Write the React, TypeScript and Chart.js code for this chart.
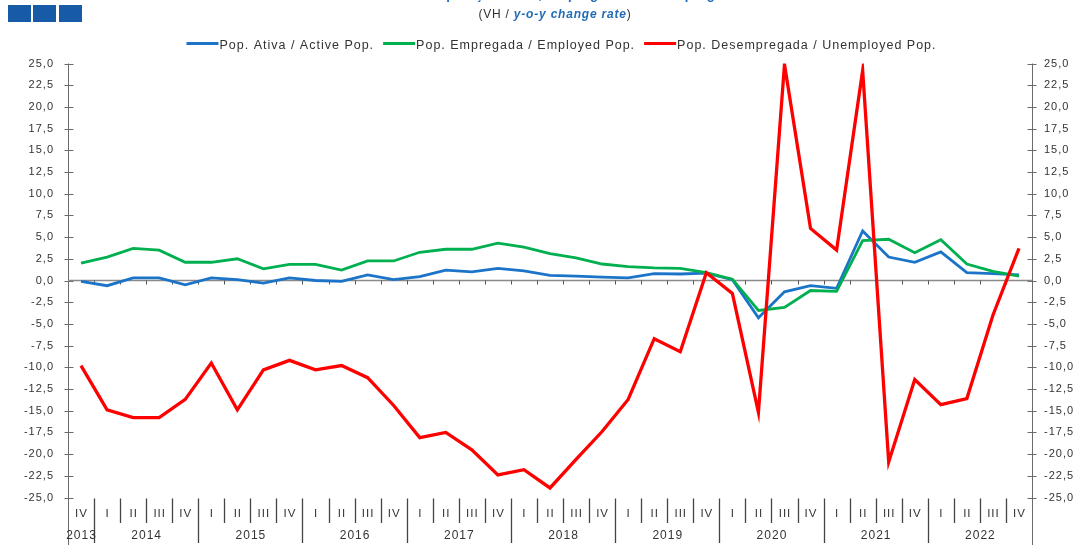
import React, { useEffect, useRef } from "react";
import { Chart, registerables } from "chart.js";

Chart.register(...registerables);

// ---------- DATA ----------
const categories = [
  "2013 IV",
  "2014 I", "2014 II", "2014 III", "2014 IV",
  "2015 I", "2015 II", "2015 III", "2015 IV",
  "2016 I", "2016 II", "2016 III", "2016 IV",
  "2017 I", "2017 II", "2017 III", "2017 IV",
  "2018 I", "2018 II", "2018 III", "2018 IV",
  "2019 I", "2019 II", "2019 III", "2019 IV",
  "2020 I", "2020 II", "2020 III", "2020 IV",
  "2021 I", "2021 II", "2021 III", "2021 IV",
  "2022 I", "2022 II", "2022 III", "2022 IV",
];

const seriesNames = [
  "Pop. Ativa / Active Pop.",
  "Pop. Empregada / Employed Pop.",
  "Pop. Desempregada / Unemployed Pop.",
];

const seriesColors = ["#1C74C8", "#00B050", "#FF0000"];

const activePop = [
  -0.1, -0.6, 0.3, 0.3, -0.5, 0.3, 0.1, -0.3, 0.3, 0.0, -0.1, 0.65, 0.1,
  0.45, 1.2, 1.0, 1.4, 1.1, 0.6, 0.5, 0.4, 0.3, 0.8, 0.75, 0.85, 0.1, -4.3,
  -1.3, -0.6, -0.9, 5.7, 2.7, 2.1, 3.3, 0.9, 0.8, 0.65,
];

const employedPop = [
  2.0, 2.7, 3.7, 3.5, 2.1, 2.1, 2.5, 1.35, 1.85, 1.85, 1.2, 2.25, 2.25, 3.25,
  3.6, 3.6, 4.3, 3.85, 3.1, 2.6, 1.9, 1.6, 1.45, 1.4, 0.9, 0.15, -3.45, -3.1,
  -1.15, -1.25, 4.6, 4.75, 3.2, 4.7, 1.9, 1.05, 0.5,
];

const unemployedPop = [
  -9.8, -14.9, -15.8, -15.8, -13.7, -9.5, -14.9, -10.3, -9.2, -10.3, -9.8,
  -11.2, -14.4, -18.1, -17.5, -19.5, -22.4, -21.8, -23.9, -20.6, -17.4, -13.7,
  -6.7, -8.2, 0.9, -1.5, -15.2, 24.9, 6.0, 3.5, 24.2, -20.9, -11.4, -14.3,
  -13.6, -4.0, 3.7,
];

const yMin = -25;
const yMax = 25;
const yStep = 2.5;

const titleText = "População Ativa, Empregada e Desempregada";
const subtitlePrefix = "(VH / ";
const subtitleEmph = "y-o-y change rate";
const subtitleSuffix = ")";

// ---------- STYLE ----------
const FONT = '"Liberation Sans", Arial, Helvetica, sans-serif';
const AXIS = "#6b6b6b";
const TEXT = "#333333";
const LS = "1px";

const fmt = (v: number) => v.toFixed(1).replace(".", ",");

const spacingPlugin = {
  id: "spacing",
  beforeUpdate(chart: any) {
    try { chart.ctx.letterSpacing = LS; } catch (e) {}
  },
  beforeDraw(chart: any) {
    try { chart.ctx.letterSpacing = LS; } catch (e) {}
  },
};

const line = (ctx: CanvasRenderingContext2D, x1: number, y1: number, x2: number, y2: number) => {
  ctx.beginPath();
  ctx.moveTo(x1, y1);
  ctx.lineTo(x2, y2);
  ctx.stroke();
};

const decorPlugin = {
  id: "decor",
  beforeDatasetsDraw(chart: any) {
    const { ctx, chartArea: ca, scales } = chart;
    const xs = scales.x;
    const ys = scales.y;
    const n = categories.length;
    const pos = (i: number) => xs.getPixelForValue(i);
    const half = n > 1 ? (pos(1) - pos(0)) / 2 : 0;
    const boundary = (i: number) => (i < n ? pos(i) - half : pos(n - 1) + half);
    ctx.save();
    try { ctx.letterSpacing = LS; } catch (e) {}
    ctx.strokeStyle = AXIS;
    ctx.lineWidth = 1;
    const L = Math.round(ca.left) + 0.5;
    const R = Math.round(ca.right) + 0.5;
    const bottomEnd = 545;
    // axis lines
    line(ctx, L, ca.top, L, bottomEnd);
    line(ctx, R, ca.top, R, bottomEnd);
    // crossing ticks on both y axes
    ys.ticks.forEach((t: any) => {
      const py = Math.round(ys.getPixelForValue(t.value)) + 0.5;
      line(ctx, L - 4, py, L + 5, py);
      line(ctx, R - 5, py, R + 4, py);
    });
    // zero line
    const z = ys.getPixelForValue(0);
    ctx.strokeStyle = "#8a8a8a";
    ctx.lineWidth = 1.5;
    line(ctx, ca.left, z, ca.right, z);
    ctx.lineWidth = 1;
    ctx.strokeStyle = "#555";
    for (let i = 1; i < n; i++) {
      const bx = Math.round(boundary(i)) + 0.5;
      line(ctx, bx, z, bx, z + 4);
    }
    // bottom separators
    ctx.strokeStyle = "#444";
    ctx.lineWidth = 1.3;
    const sepTop = ca.bottom + 1;
    for (let i = 1; i < n; i++) {
      const bx = Math.round(boundary(i)) + 0.5;
      const q = categories[i].split(" ")[1];
      line(ctx, bx, sepTop, bx, q === "I" ? 543 : 523);
    }
    // quarter labels
    ctx.fillStyle = TEXT;
    ctx.textAlign = "center";
    ctx.textBaseline = "middle";
    ctx.font = `11.5px ${FONT}`;
    for (let i = 0; i < n; i++) {
      const q = categories[i].split(" ")[1];
      ctx.fillText(q, pos(i) + 0.5, 514);
    }
    // year labels
    ctx.font = `12px ${FONT}`;
    const years: string[] = [];
    categories.forEach((c) => {
      const y = c.split(" ")[0];
      if (!years.includes(y)) years.push(y);
    });
    years.forEach((y) => {
      const idx = categories.map((c, i) => (c.startsWith(y) ? i : -1)).filter((i) => i >= 0);
      const cx = (pos(idx[0]) + pos(idx[idx.length - 1])) / 2;
      ctx.fillText(y, cx + 0.5, 536);
    });
    ctx.restore();
  },
  afterDraw(chart: any) {
    const { ctx } = chart;
    ctx.save();
    try { ctx.letterSpacing = LS; } catch (e) {}
    ctx.font = `12.5px ${FONT}`;
    const ds = chart.data.datasets;
    const lineW = 32;
    const gapT = 1;
    const gapI = 9;
    const widths = ds.map((d: any) => ctx.measureText(d.label).width);
    const total = widths.reduce((a: number, w: number) => a + lineW + gapT + w, 0) + gapI * (ds.length - 1);
    let x = 561.5 - total / 2;
    ctx.textAlign = "left";
    ctx.textBaseline = "alphabetic";
    ds.forEach((d: any, i: number) => {
      ctx.strokeStyle = d.borderColor;
      ctx.lineWidth = 3;
      line(ctx, x, 43.5, x + lineW, 43.5);
      x += lineW + gapT;
      ctx.fillStyle = TEXT;
      ctx.fillText(d.label, x, 49);
      x += widths[i] + gapI;
    });
    ctx.restore();
  },
};

export default function App() {
  const ref = useRef<HTMLCanvasElement>(null);

  useEffect(() => {
    const canvas = ref.current;
    if (!canvas) return;
    Chart.defaults.font.family = FONT;
    const values = [activePop, employedPop, unemployedPop];
    const chart = new Chart(canvas, {
      type: "line",
      data: {
        labels: categories,
        datasets: seriesNames.map((name, i) => ({
          label: name,
          data: values[i],
          borderColor: seriesColors[i],
          backgroundColor: seriesColors[i],
          borderWidth: i === 2 ? 3.3 : 2.8,
          pointRadius: 0,
          tension: 0,
          yAxisID: "y",
          order: 2 - i,
        })),
      },
      options: {
        responsive: false,
        animation: false,
        events: [],
        layout: { padding: { top: 63.5, left: 0, right: 0, bottom: 0 } },
        plugins: {
          legend: { display: false },
          tooltip: { enabled: false },
          title: { display: false },
        },
        scales: {
          x: {
            type: "category",
            offset: true,
            grid: { display: false, drawTicks: false },
            border: { display: false },
            ticks: { display: false },
            afterFit: (s: any) => { s.height = 48.5; },
          },
          y: {
            type: "linear",
            position: "left",
            min: yMin,
            max: yMax,
            grid: { display: false, drawTicks: false },
            border: { display: false },
            ticks: {
              stepSize: yStep,
              padding: 14,
              color: TEXT,
              font: { size: 11, family: FONT },
              callback: (v: any) => fmt(Number(v)),
            },
            afterFit: (s: any) => { s.width = 68; },
          },
          y2: {
            type: "linear",
            position: "right",
            min: yMin,
            max: yMax,
            grid: { display: false, drawTicks: false },
            border: { display: false },
            ticks: {
              stepSize: yStep,
              padding: 12,
              color: TEXT,
              font: { size: 11, family: FONT },
              callback: (v: any) => fmt(Number(v)),
            },
            afterFit: (s: any) => { s.width = 53; },
          },
        },
      } as any,
      plugins: [spacingPlugin, decorPlugin],
    });
    return () => chart.destroy();
  }, []);

  const sq = (left: number) => (
    <div
      style={{ position: "absolute", left, top: 5, width: 23, height: 17, background: "#175AA5" }}
    />
  );

  return (
    <div
      style={{
        position: "fixed",
        left: 0,
        top: 0,
        width: 1085,
        height: 546,
        background: "#ffffff",
        overflow: "hidden",
        fontFamily: FONT,
      }}
    >
      <canvas
        ref={ref}
        width={1085}
        height={546}
        style={{ position: "absolute", left: 0, top: 0, width: 1085, height: 546, display: "block" }}
      />
      {sq(8)}
      {sq(33)}
      {sq(58.5)}
      <div
        style={{
          position: "absolute",
          left: 0,
          top: 0,
          width: 1085,
          height: 4,
          overflow: "hidden",
        }}
      >
        <div
          style={{
            position: "absolute",
            left: 584 - 300,
            top: -13,
            width: 600,
            textAlign: "center",
            fontSize: 13,
            lineHeight: "16px",
            fontWeight: "bold",
            color: "#1F6BB5",
            letterSpacing: "0.6px",
            whiteSpace: "nowrap",
          }}
        >
          {titleText}
        </div>
      </div>
      <div
        style={{
          position: "absolute",
          left: 555 - 200,
          top: 6,
          width: 400,
          textAlign: "center",
          fontSize: 12,
          lineHeight: "16px",
          color: TEXT,
          letterSpacing: "0.8px",
          whiteSpace: "nowrap",
        }}
      >
        {subtitlePrefix}
        <span style={{ color: "#1F6BB5", fontWeight: "bold", fontStyle: "italic" }}>{subtitleEmph}</span>
        {subtitleSuffix}
      </div>
    </div>
  );
}
